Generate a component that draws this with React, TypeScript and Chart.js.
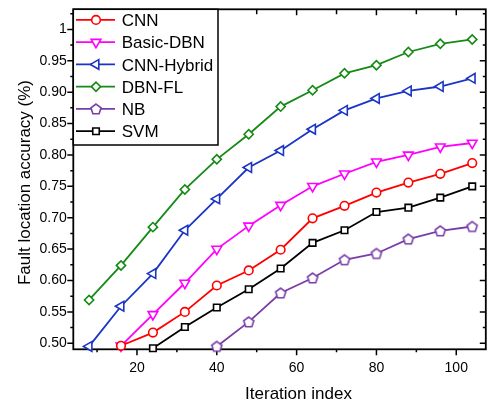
import React, { useEffect, useRef } from 'react';
import { Chart, registerables } from 'chart.js';
import { drawPoint } from 'chart.js/helpers';

Chart.register(...registerables);

// ---- data ----
const iterations = [8, 16, 24, 32, 40, 48, 56, 64, 72, 80, 88, 96, 104];
const cnn = [null, 0.496, 0.517, 0.55, 0.592, 0.616, 0.649, 0.699, 0.719, 0.74, 0.756, 0.77, 0.787];
const basicDbn = [null, 0.496, 0.546, 0.596, 0.65, 0.687, 0.72, 0.75, 0.77, 0.789, 0.8, 0.813, 0.819];
const cnnHybrid = [0.495, 0.559, 0.611, 0.68, 0.73, 0.78, 0.807, 0.841, 0.871, 0.89, 0.902, 0.909, 0.922];
const dbnFl = [0.569, 0.624, 0.685, 0.745, 0.793, 0.833, 0.877, 0.903, 0.93, 0.943, 0.964, 0.977, 0.984];
const nb = [null, null, null, null, 0.495, 0.534, 0.58, 0.604, 0.633, 0.643, 0.666, 0.679, 0.686];
const svm = [null, null, 0.492, 0.526, 0.557, 0.586, 0.619, 0.66, 0.68, 0.709, 0.716, 0.732, 0.75];

const seriesNames = ['CNN', 'Basic-DBN', 'CNN-Hybrid', 'DBN-FL', 'NB', 'SVM'];
const xTickValues = [20, 40, 60, 80, 100];
const xMinorValues = [10, 30, 50, 70, 90];
const yTickValues = [0.5, 0.55, 0.6, 0.65, 0.7, 0.75, 0.8, 0.85, 0.9, 0.95, 1.0];
const yMinorValues = [0.525, 0.575, 0.625, 0.675, 0.725, 0.775, 0.825, 0.875, 0.925, 0.975, 1.025];

const FONT = "'Liberation Sans', Arial, sans-serif";

function toPoints(vals: (number | null)[]) {
  const out: { x: number; y: number }[] = [];
  vals.forEach((v, i) => {
    if (v !== null) out.push({ x: iterations[i], y: v });
  });
  return out;
}

function makePentagon(color: string) {
  const c = document.createElement('canvas');
  c.width = 16;
  c.height = 16;
  const g = c.getContext('2d')!;
  const R = 5.3;
  g.beginPath();
  for (let k = 0; k < 5; k++) {
    const a = (-90 + 72 * k) * Math.PI / 180;
    const px = 8 + R * Math.cos(a);
    const py = 8.4 + R * Math.sin(a);
    if (k === 0) g.moveTo(px, py); else g.lineTo(px, py);
  }
  g.closePath();
  g.fillStyle = '#ffffff';
  g.fill();
  g.lineWidth = 1.6;
  g.strokeStyle = color;
  g.stroke();
  return c;
}

const framePlugin = {
  id: 'framePlugin',
  beforeDatasetsDraw(chart: any) {
    const { ctx, chartArea: a, scales } = chart;
    const xs = scales.x, ys = scales.y;
    ctx.save();
    ctx.strokeStyle = '#000';
    ctx.lineWidth = 1.8;
    ctx.strokeRect(a.left, a.top, a.right - a.left, a.bottom - a.top);
    ctx.lineWidth = 1.5;
    ctx.beginPath();
    const tickX = (v: number, len: number, lenTop: number) => {
      const px = xs.getPixelForValue(v);
      ctx.moveTo(px, a.bottom);
      ctx.lineTo(px, a.bottom + len);
      ctx.moveTo(px, a.top);
      ctx.lineTo(px, a.top + lenTop);
    };
    const tickY = (v: number, len: number) => {
      const py = ys.getPixelForValue(v);
      ctx.moveTo(a.left, py);
      ctx.lineTo(a.left - len, py);
      ctx.moveTo(a.right, py);
      ctx.lineTo(a.right - len, py);
    };
    xTickValues.forEach((v) => tickX(v, 6, 6));
    xMinorValues.forEach((v) => tickX(v, 3, 5));
    yTickValues.forEach((v) => tickY(v, 6));
    yMinorValues.forEach((v) => tickY(v, 3));
    ctx.stroke();
    ctx.restore();
  },
  afterDraw(chart: any) {
    const { ctx, chartArea: a } = chart;
    ctx.save();
    // legend
    const lx = a.left, ly = a.top;
    const lw = 144.7, lh = 135.7;
    ctx.fillStyle = '#fff';
    ctx.fillRect(lx, ly, lw, lh);
    ctx.strokeStyle = '#000';
    ctx.lineWidth = 1.5;
    ctx.strokeRect(lx, ly, lw, lh);
    ctx.font = `17px ${FONT}`;
    ctx.textAlign = 'left';
    ctx.textBaseline = 'alphabetic';
    chart.data.datasets.forEach((ds: any, i: number) => {
      const y = ly + 10.6 + i * 22.26;
      ctx.strokeStyle = ds.borderColor;
      ctx.lineWidth = ds.borderWidth;
      ctx.beginPath();
      ctx.moveTo(lx + 2.7, y);
      ctx.lineTo(lx + 41.7, y);
      ctx.stroke();
      ctx.fillStyle = '#fff';
      ctx.strokeStyle = ds.borderColor;
      ctx.lineWidth = ds.pointBorderWidth;
      drawPoint(ctx, {
        pointStyle: ds.pointStyle,
        rotation: ds.pointRotation || 0,
        radius: ds.pointRadius,
        borderWidth: ds.pointBorderWidth,
      } as any, lx + 22.7, y);
      ctx.fillStyle = '#000';
      ctx.fillText(ds.label, lx + 48.4, y + 6.1);
    });
    // axis titles
    ctx.fillStyle = '#000';
    ctx.font = `17px ${FONT}`;
    ctx.textAlign = 'center';
    ctx.textBaseline = 'alphabetic';
    ctx.fillText('Iteration index', 298.5, 399);
    ctx.translate(30, 182.5);
    ctx.rotate(-Math.PI / 2);
    ctx.fillText('Fault location accuracy (%)', 0, 0);
    ctx.restore();
  },
};

export default function App() {
  const ref = useRef<HTMLCanvasElement | null>(null);
  useEffect(() => {
    document.body.style.margin = '0';
    const canvas = ref.current!;
    const purple = '#7a3da8';
    const colors = ['#ff0000', '#ff00ff', '#1a35c5', '#158a15', purple, '#000000'];
    const values = [cnn, basicDbn, cnnHybrid, dbnFl, nb, svm];
    const styles: any[] = ['circle', 'triangle', 'triangle', 'rectRot', makePentagon(purple), 'rect'];
    const rotations = [0, 180, 270, 0, 0, 0];
    const radii = [4.3, 5.6, 5.6, 4.6, 5, 4.6];
    const chart = new Chart(canvas, {
      type: 'line',
      data: {
        datasets: seriesNames.map((name, i) => ({
          label: name,
          data: toPoints(values[i]),
          borderColor: colors[i],
          backgroundColor: '#ffffff',
          pointBackgroundColor: '#ffffff',
          pointBorderColor: colors[i],
          borderWidth: 1.8,
          pointBorderWidth: 1.6,
          pointRadius: radii[i],
          pointStyle: styles[i],
          pointRotation: rotations[i],
          tension: 0,
          fill: false,
          clip: false as any,
        })),
      },
      options: {
        animation: false,
        responsive: false,
        devicePixelRatio: 1,
        layout: { padding: { top: 9.3, right: 2, left: 0, bottom: 0 } },
        plugins: { legend: { display: false }, tooltip: { enabled: false } },
        events: [],
        scales: {
          x: {
            type: 'linear',
            min: 4.05,
            max: 107.4,
            grid: { display: false, drawTicks: false },
            border: { display: false },
            ticks: {
              color: '#000',
              font: { family: FONT, size: 14 },
              padding: 10.3,
              maxRotation: 0,
              autoSkip: false,
            },
            afterBuildTicks: (s: any) => {
              s.ticks = xTickValues.map((v) => ({ value: v }));
            },
            afterFit: (s: any) => {
              s.height = 53.7;
              s.paddingLeft = 0;
              s.paddingRight = 0;
            },
          },
          y: {
            type: 'linear',
            min: 0.4904,
            max: 1.032,
            grid: { display: false, drawTicks: false },
            border: { display: false },
            ticks: {
              color: '#000',
              font: { family: FONT, size: 14 },
              padding: 6.6,
              autoSkip: false,
              callback: (v: any) => (Math.abs(v - 1) < 1e-9 ? '1' : Number(v).toFixed(2)),
            },
            afterBuildTicks: (s: any) => {
              s.ticks = yTickValues.map((v) => ({ value: v }));
            },
            afterFit: (s: any) => {
              s.width = 73.3;
              s.paddingTop = 0;
              s.paddingBottom = 0;
            },
          },
        },
      },
      plugins: [framePlugin],
    });
    return () => chart.destroy();
  }, []);
  return (
    <div style={{ width: 493, height: 403 }}>
      <canvas ref={ref} width={493} height={403} style={{ display: 'block', width: 493, height: 403 }} />
    </div>
  );
}
